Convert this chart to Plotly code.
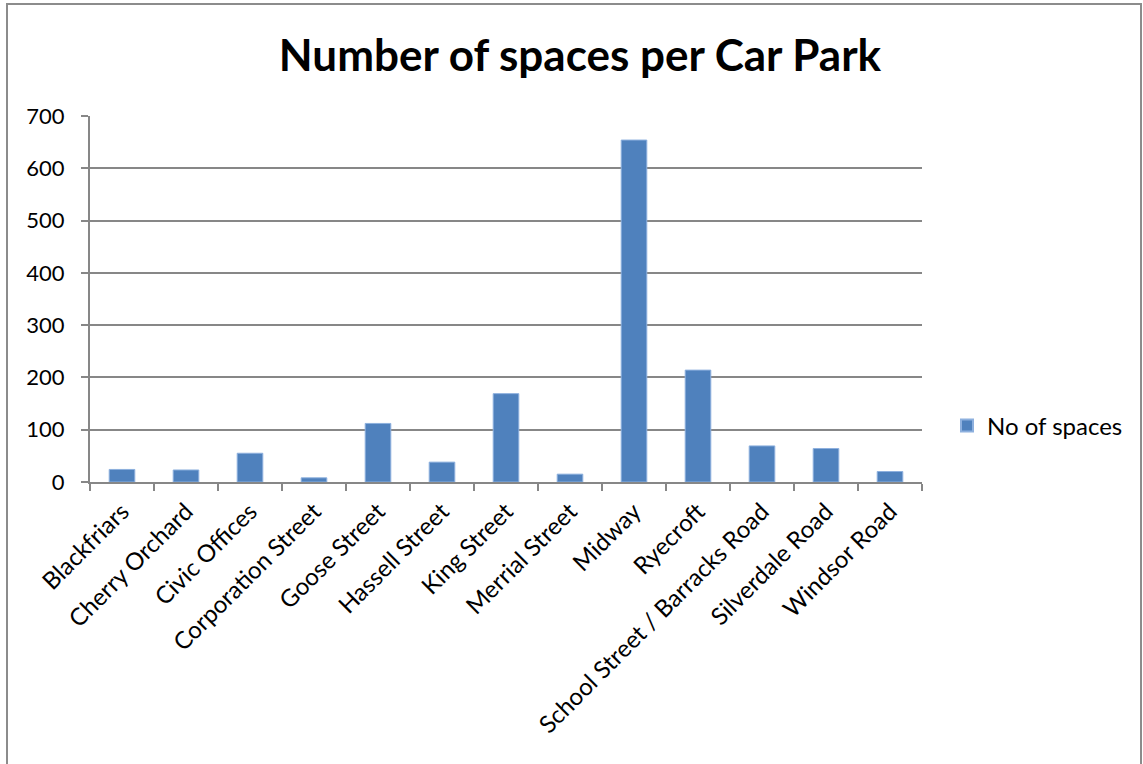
import plotly.graph_objects as go

car_parks = ["Blackfriars", "Cherry Orchard", "Civic Offices", "Corporation Street",
             "Goose Street", "Hassell Street", "King Street", "Merrial Street",
             "Midway", "Ryecroft", "School Street / Barracks Road",
             "Silverdale Road", "Windsor Road"]
spaces = [24, 23, 55, 8, 112, 38, 169, 15, 654, 214, 69, 64, 20]
series_name = "No of spaces"
title_text = "Number of spaces per Car Park"

FONT = "Lato"
GRID = "#878787"

fig = go.Figure()
fig.add_trace(go.Bar(x=car_parks, y=spaces, name=series_name,
                     marker=dict(color="#4F81BD", line=dict(color="#8DB0DE", width=1)),
                     showlegend=True))

L, R, T, B = 90, 922, 116, 482
W, H = 1143, 764
pw, ph = R - L, B - T

fig.update_layout(
    width=W, height=H, autosize=False,
    margin=dict(l=L, r=W - R, t=T, b=H - B, pad=0),
    paper_bgcolor="white", plot_bgcolor="white",
    bargap=0.6,
    title=dict(text="<b>" + title_text + "</b>", x=580 / W, xanchor="center",
               y=1 - 56 / H, yanchor="middle",
               font=dict(family=FONT, size=44, color="black")),
    font=dict(family=FONT, size=22, color="black"),
    showlegend=True,
    legend=dict(x=(947 - L) / pw, y=(482 - 426) / ph, xanchor="left", yanchor="middle",
                font=dict(family=FONT, size=24, color="black"),
                bgcolor="rgba(0,0,0,0)", itemsizing="constant"),
    xaxis=dict(showgrid=False, showline=True, linecolor=GRID, linewidth=2,
               ticks="outside", tickson="boundaries", ticklen=7, tickcolor=GRID,
               tickwidth=2, tickangle=-45, tickfont=dict(family=FONT, size=24),
               range=[-0.5, len(car_parks) - 0.5], ticklabelstandoff=4),
    yaxis=dict(range=[0, 700], dtick=100, showgrid=True, gridcolor=GRID, gridwidth=2,
               showline=True, linecolor=GRID, linewidth=2, ticks="outside",
               ticklen=7, tickcolor=GRID, tickwidth=2, zeroline=False,
               tickfont=dict(family=FONT, size=22), ticklabelstandoff=12),
    shapes=[dict(type="rect", xref="paper", yref="paper",
                 x0=(7 - L) / pw, x1=(1141 - L) / pw,
                 y0=(B - 800) / ph, y1=(B - 4) / ph,
                 line=dict(color="#8C8C8C", width=2), fillcolor="rgba(0,0,0,0)",
                 layer="below")],
)

fig.write_html("out.html")
